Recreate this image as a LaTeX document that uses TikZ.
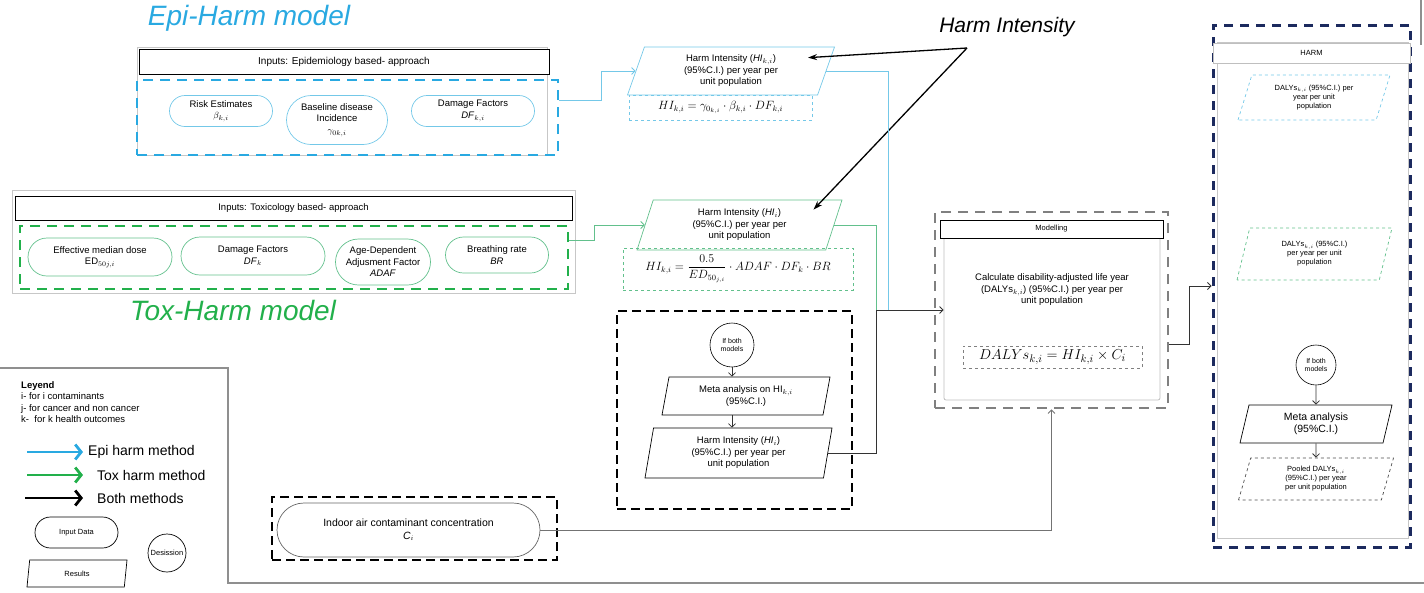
\documentclass[tikz,border=0pt]{standalone}
\usepackage{fontspec}
\setmainfont{Liberation Sans}
\usepackage{amsmath}
\usepackage{xcolor}
\usetikzlibrary{shapes.geometric,shapes.misc,arrows.meta}
\definecolor{epiblue}{HTML}{29A9E1}
\definecolor{epilight}{HTML}{74C8E8}
\definecolor{toxgreen}{HTML}{22B04B}
\definecolor{toxlight}{HTML}{62C08C}
\definecolor{harmnavy}{HTML}{1C2A5E}
\definecolor{framegray}{HTML}{8F8F8F}

\begin{document}
\begin{tikzpicture}[x=1pt,y=-1pt,
  >={Straight Barb[length=3.5pt,width=7pt]},
  txt/.style={font=\fontsize{9.5}{11.5}\selectfont,align=center,inner sep=0pt},
  small/.style={font=\fontsize{7.5}{9}\selectfont},
  inbox/.style={txt,rounded rectangle,draw=#1,line width=0.7},
  headbox/.style={txt,draw,line width=0.8,fill=white},
  resbox/.style={txt,trapezium,trapezium stretches body,draw,line width=0.7,
    trapezium left angle=#1,trapezium right angle=180-#1},
  resbox/.default=63,
  frame/.style={draw=black!22,line width=0.6,inner sep=0pt},
  groupbox/.style={draw=#1,line width=2.8,dash pattern=on 10pt off 7pt,inner sep=0pt},
  formbox/.style={draw=#1,dashed,line width=0.8,inner sep=0pt},
  epiline/.style={draw=epilight,line width=0.8},
  toxline/.style={draw=toxlight,line width=0.8},
  bothline/.style={draw=black!80,line width=0.8},
  grayline/.style={draw=black!55,line width=0.8},
  pointer/.style={line width=1.3,-{Stealth[length=9pt,width=6pt]}},
  legarrow/.style={line width=2.8,-{Straight Barb[length=6pt,width=15pt,line width=2.8pt]}}]
\useasboundingbox (0,0) rectangle (1424,592);

\node[font=\fontsize{28}{28}\selectfont\itshape,text=epiblue] (epititle) at (249,18) {Epi-Harm model};
\node[frame,minimum width=410,minimum height=108] (epiframe) at (342,101) {};
\node[headbox,font=\fontsize{10}{12}\selectfont,minimum width=410,minimum height=25] (epihead) at (344,62) {Inputs: Epidemiology based- approach};
\node[groupbox=epiblue,minimum width=421,minimum height=75] (epibox) at (347.5,117.5) {};
\node[inbox=epilight,minimum width=103,minimum height=31] (epirisk) at (221,111) {Risk Estimates\\$\beta_{k,i}$};
\node[inbox=epilight,minimum width=101,minimum height=49] (epibase) at (337,120) {Baseline disease\\Incidence\\$\gamma_{0k,i}$};
\node[inbox=epilight,minimum width=123,minimum height=31] (epidf) at (473,111) {Damage Factors\\\textit{DF}$_{k,i}$};

\node[font=\fontsize{28}{28}\selectfont\itshape,text=toxgreen] (toxtitle) at (233,310) {Tox-Harm model};
\node[frame,minimum width=563,minimum height=103] (toxframe) at (293.5,241.5) {};
\node[headbox,minimum width=557,minimum height=24] (toxhead) at (293.5,208) {Inputs: Toxicology based- approach};
\node[groupbox=toxgreen,minimum width=548,minimum height=63] (toxbox) at (294,257.5) {};
\node[inbox=toxlight,minimum width=144,minimum height=38] (toxed) at (100,257) {Effective median dose\\ED$_{50j,i}$};
\node[inbox=toxlight,minimum width=144,minimum height=38] (toxdf) at (253,256) {Damage Factors\\\textit{DF}$_k$};
\node[inbox=toxlight,minimum width=95,minimum height=46] (toxadaf) at (383,262) {Age-Dependent\\Adjusment Factor\\\textit{ADAF}};
\node[inbox=toxlight,minimum width=103,minimum height=36] (toxbr) at (497,255) {Breathing rate\\\textit{BR}};

\node[formbox=epilight,minimum width=183,minimum height=25,font=\fontsize{12}{12}\selectfont] (epiform) at (720.5,107.5) {$HI_{k,i} = \gamma_{0_{k,i}}\cdot\beta_{k,i}\cdot DF_{k,i}$};
\node[resbox=62,draw=epilight,minimum width=207,minimum height=48] (epihi) at (731,71) {Harm Intensity (\textit{HI}$_{k,i}$)\\(95\%C.I.) per year per\\unit population};
\node[formbox=toxlight,minimum width=230,minimum height=42,font=\fontsize{12}{12}\selectfont] (toxform) at (738,269) {$HI_{k,i} = \dfrac{0.5}{ED_{50_{j,i}}}\cdot ADAF\cdot DF_k\cdot BR$};
\node[resbox=63,draw=toxlight,minimum width=205,minimum height=50] (toxhi) at (739.5,225) {Harm Intensity (\textit{HI}$_i$)\\(95\%C.I.) per year per\\unit population};

\node[groupbox=black,dash pattern=on 9pt off 5pt,minimum width=235,minimum height=198] (bothbox) at (734.5,410) {};
\node[txt,font=\fontsize{7}{8.5}\selectfont,circle,draw,line width=0.6,minimum size=44] (bothif) at (732,345) {If both\\models};
\node[resbox=71,minimum width=168,minimum height=38] (bothmeta) at (746,396) {Meta analysis on HI$_{k,i}$\\(95\%C.I.)};
\node[resbox=75,minimum width=187,minimum height=50] (bothhi) at (738.5,453) {Harm Intensity (\textit{HI}$_i$)\\(95\%C.I.) per year per\\unit population};

\node[groupbox=black!50,minimum width=233,minimum height=196] (modbox) at (1051.5,310) {};
\node[frame,draw=black!25,line width=0.8,rounded corners=2,minimum width=216,minimum height=178] (modinner) at (1052,311) {};
\node[headbox,small,minimum width=223,minimum height=18] (modhead) at (1051.5,229) {Modelling};
\node[txt] (modtext) at (1052,290) {Calculate disability-adjusted life year\\(DALYs$_{k,i}$) (95\%C.I.) per year per\\unit population};
\node[formbox=black!50,minimum width=179,minimum height=22,font=\fontsize{15}{15}\selectfont] (modform) at (1052.5,357) {$DALYs_{k,i} = HI_{k,i}\times C_i$};

\node[groupbox=harmnavy,line width=3,dash pattern=on 9pt off 7pt,minimum width=197,minimum height=522] (harmbox) at (1311.5,286) {};
\node[frame,minimum width=191,minimum height=496] (harminner) at (1312.5,290) {};
\node[headbox,small,draw=black!25,minimum width=197,minimum height=20] (harmhead) at (1311.5,53) {HARM};
\node[resbox=61,small,dashed,draw=epilight,minimum width=152,minimum height=45] (harmepi) at (1314,97.5) {DALYs$_{k,i}$ (95\%C.I.) per\\year per unit\\population};
\node[resbox=63,small,dashed,draw=toxlight,minimum width=155,minimum height=52] (harmtox) at (1314.5,254) {DALYs$_{k,i}$ (95\%C.I.)\\per year per unit\\population};
\node[txt,font=\fontsize{7}{8.5}\selectfont,circle,draw,line width=0.6,minimum size=40] (harmif) at (1316,365) {If both\\models};
\node[resbox=68,font=\fontsize{10.5}{12.5}\selectfont,minimum width=152,minimum height=38] (harmmeta) at (1316,424) {Meta analysis\\(95\%C.I.)};
\node[resbox=64,small,dashed,draw=black!70,minimum width=155,minimum height=42] (harmpool) at (1316,479) {Pooled DALYs$_{k,i}$\\(95\%C.I.) per year\\per unit population};

\node[groupbox=black,dash pattern=on 9pt off 5pt,minimum width=285,minimum height=63] (airbox) at (414.5,528.5) {};
\node[inbox=black!60,font=\fontsize{10.5}{12.5}\selectfont,minimum width=263,minimum height=54] (air) at (408.5,530) {Indoor air contaminant concentration\\\textit{C}$_i$};

\node[font=\fontsize{21}{21}\selectfont\itshape] (hilabel) at (1007,27) {Harm Intensity};
\coordinate (hifork) at (967,48);
\draw[pointer] (hifork) -- ([shift={(-27,11)}]epihi.top right corner);
\draw[pointer] (hifork) -- ([shift={(-29,10)}]toxhi.top right corner);

\coordinate (join) at (876,310);
\draw[epiline,->] ([shift={(0,-17)}]epibox.east) -- ++(42,0) |- (epihi.west);
\draw[epiline] (epihi.east) -| ([xshift=12pt]join);
\draw[toxline,->] ([shift={(0,-17)}]toxbox.east) -- ++(25,0) |- (toxhi.west);
\draw[toxline] (toxhi.east) -| (join);
\draw[bothline] (bothhi.east) -| (join);
\draw[bothline,->] (join) -- (modinner.west |- join);
\draw[bothline,->] (bothif.south) -- (bothif.south |- bothmeta.north);
\draw[bothline,->] (bothmeta.south -| bothif.south) -- (bothif.south |- bothhi.north);
\draw[grayline,->] (air.east) -| (modbox.south);
\draw[bothline,->] ([shift={(0,34)}]modbox.east) -- ++(20,0) |- (harmbox.west);
\draw[bothline,->] (harmif.south) -- (harmmeta.north);
\draw[bothline,->] (harmmeta.south) -- (harmpool.north);

\draw[framegray,line width=1.8] (0,368) -- (228,368) -- (228,583) -- (1424,583);
\draw[framegray,line width=1.8] (1421,0) -- (1421,45);
\node[txt,align=left,anchor=north west] (legtext) at (21,381) {\textbf{Leyend}\\i- for i contaminants\\j- for cancer and non cancer\\k-\ \ for k health outcomes};
\node[anchor=west,inner sep=0pt,font=\fontsize{14}{14}\selectfont] (legepi) at (88,452) {Epi harm method};
\node[anchor=west,inner sep=0pt,font=\fontsize{14}{14}\selectfont] (legtox) at (97,475) {Tox harm method};
\node[anchor=west,inner sep=0pt,font=\fontsize{14}{14}\selectfont] (legboth) at (97,498) {Both methods};
\draw[legarrow,epiblue] (legepi.west) ++(-61,0) -- ++(56,0);
\draw[legarrow,toxgreen] (legtox.west) ++(-70,0) -- ++(56,0);
\draw[legarrow,black] (legboth.west) ++(-72,0) -- ++(58,0);
\node[inbox=black,small,minimum width=83,minimum height=31] (leginput) at (76.5,532.5) {Input Data};
\node[txt,small,circle,draw,line width=0.7,minimum size=38] (legdec) at (167,553) {Desission};
\node[resbox=64,small,minimum width=100,minimum height=27] (legres) at (77,573.5) {Results};
\end{tikzpicture}
\end{document}
